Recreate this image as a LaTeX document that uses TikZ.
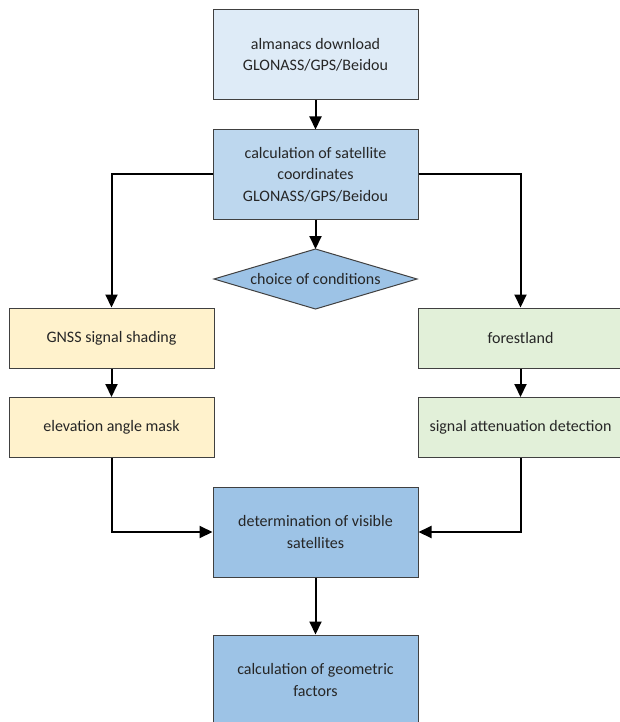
\documentclass[tikz,border=0pt]{standalone}
\usepackage{fontspec}
\setmainfont{Carlito}
\usetikzlibrary{arrows.meta}
\definecolor{cA}{HTML}{DEEBF7}
\definecolor{cB}{HTML}{BDD7EE}
\definecolor{cC}{HTML}{9DC3E6}
\definecolor{cY}{HTML}{FFF2CC}
\definecolor{cG}{HTML}{E2F0D9}
\definecolor{cBorder}{HTML}{404040}
\tikzset{
  box/.style={draw=cBorder, line width=1pt, rectangle, align=center, inner sep=0pt,
    font=\fontsize{16}{21.5}\selectfont, text=black!85},
  bigbox/.style={box, minimum width=205pt, minimum height=90pt},
  smallbox/.style={box, minimum width=205pt, minimum height=60pt},
  conn/.style={line width=2pt, black, -{Triangle[width=12pt,length=13pt]}},
  plain/.style={font=\fontsize{16}{21.5}\selectfont, text=black!85, inner sep=0pt}
}
\begin{document}
\begin{tikzpicture}[x=1pt,y=-1pt]
\useasboundingbox (0,0) rectangle (619,722);
\node[bigbox, fill=cA] (alm) at (315.5,55) {almanacs download\\GLONASS/GPS/Beidou};
\node[bigbox, fill=cB, minimum height=89pt] (calc) at (315.5,174.5) {calculation of satellite\\coordinates\\GLONASS/GPS/Beidou};
\coordinate (dtop) at (315.5,249);
\coordinate (dleft) at (214,279);
\coordinate (dright) at (417,279);
\coordinate (dbot) at (315.5,309);
\path[draw=cBorder, line width=1pt, fill=cC] (dleft) -- (dtop) -- (dright) -- (dbot) -- cycle;
\node[plain] (dia) at (315.5,279) {choice of conditions};
\node[smallbox, fill=cY] (gnss) at (111.5,338) {GNSS signal shading};
\node[smallbox, fill=cY] (elev) at (111.5,427.5) {elevation angle mask};
\node[smallbox, fill=cG] (forest) at (520.5,338) {forestland};
\node[smallbox, fill=cG] (atten) at (520.5,427.5) {signal attenuation detection};
\node[bigbox, fill=cC] (det) at (315.5,532) {determination of visible\\satellites};
\node[bigbox, fill=cC] (geo) at (315.5,680) {calculation of geometric\\factors};
\draw[conn] (alm.south) -- (calc.north);
\draw[conn] (calc.south) -- (dtop);
\draw[conn] (calc.west) -| (gnss.north);
\draw[conn] (calc.east) -| (forest.north);
\draw[conn] (gnss.south) -- (elev.north);
\draw[conn] (forest.south) -- (atten.north);
\draw[conn] (elev.south) |- (det.west);
\draw[conn] (atten.south) |- (det.east);
\draw[conn] (det.south) -- (geo.north);
\end{tikzpicture}
\end{document}
